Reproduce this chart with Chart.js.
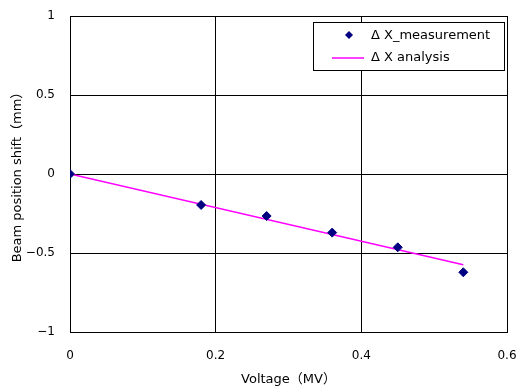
<!DOCTYPE html>
<html>
<head>
<meta charset="utf-8">
<script src="https://cdn.jsdelivr.net/npm/chart.js@4/dist/chart.umd.min.js"></script>
<style>
  html, body { margin: 0; padding: 0; background: #fff; }
  #wrap { width: 518px; height: 387px; }
</style>
</head>
<body>
<div id="wrap"><canvas id="shiftChart" width="518" height="387"></canvas></div>
<script>
// measured beam shift vs. voltage
const voltages = [0, 0.18, 0.27, 0.36, 0.45, 0.54];
const measuredShift = [0, -0.196, -0.266, -0.371, -0.464, -0.622];

// analysis line endpoints
const analysisVoltages = [0, 0.54];
const analysisShift = [0, -0.575];

const FONT = "'DejaVu Sans', 'Noto Sans CJK JP', sans-serif";

function toPoints(xs, ys) {
  return xs.map((x, i) => ({ x: x, y: ys[i] }));
}

function fmtTick(value) {
  const v = Math.round(value * 10) / 10;
  return String(v).replace('-', '\u2212');
}

// no extra room for edge labels, layout padding decides the plot box
function noEdgePadding(scale) {
  scale.paddingLeft = 0;
  scale.paddingRight = 0;
  scale.paddingTop = 0;
  scale.paddingBottom = 0;
}

// legend box drawn inside the plot area, top right
const boxLegend = {
  id: 'boxLegend',
  afterDraw(chart) {
    const ctx = chart.ctx;
    const x = 313, y = 22, w = 191, h = 48;
    ctx.save();
    ctx.fillStyle = '#fff';
    ctx.fillRect(x, y, w, h);
    ctx.strokeStyle = '#000';
    ctx.lineWidth = 1;
    ctx.strokeRect(x + 0.5, y + 0.5, w, h);

    ctx.font = '13px ' + FONT;
    ctx.textBaseline = 'middle';

    // measurement marker
    const m = chart.data.datasets[0];
    ctx.fillStyle = m.backgroundColor;
    ctx.beginPath();
    ctx.moveTo(349, 31);
    ctx.lineTo(353, 35);
    ctx.lineTo(349, 39);
    ctx.lineTo(345, 35);
    ctx.closePath();
    ctx.fill();
    ctx.fillStyle = '#000';
    ctx.fillText(m.label, 371, 36);

    // analysis line sample
    const a = chart.data.datasets[1];
    ctx.strokeStyle = a.borderColor;
    ctx.lineWidth = a.borderWidth;
    ctx.beginPath();
    ctx.moveTo(332, 58);
    ctx.lineTo(364, 58);
    ctx.stroke();
    ctx.fillText(a.label, 371, 58);
    ctx.restore();
  }
};

const ctx = document.getElementById('shiftChart').getContext('2d');
new Chart(ctx, {
  type: 'scatter',
  data: {
    datasets: [
      {
        label: '\u0394 X_measurement',
        data: toPoints(voltages, measuredShift),
        pointStyle: 'rectRot',
        pointRadius: 4.5,
        backgroundColor: '#000080',
        borderColor: '#000080',
        showLine: false,
        order: 1
      },
      {
        label: '\u0394 X analysis',
        data: toPoints(analysisVoltages, analysisShift),
        showLine: true,
        borderColor: '#FF00FF',
        borderWidth: 1.5,
        pointRadius: 0,
        order: 2
      }
    ]
  },
  options: {
    responsive: false,
    animation: false,
    layout: { padding: { top: 16, right: 11, left: 0, bottom: 0 } },
    plugins: {
      legend: { display: false },
      tooltip: { enabled: false }
    },
    scales: {
      x: {
        type: 'linear',
        min: 0,
        max: 0.6,
        ticks: {
          stepSize: 0.2,
          padding: 17,
          color: '#000',
          font: { family: FONT, size: 12 },
          callback: fmtTick
        },
        grid: { color: '#000', drawTicks: false, lineWidth: 1 },
        border: { color: '#000' },
        title: {
          display: true,
          text: 'Voltage\uFF08MV\uFF09',
          color: '#000',
          font: { family: FONT, size: 13 },
          padding: { top: 4, bottom: 0 }
        },
        afterFit(scale) {
          scale.height = 55;
          noEdgePadding(scale);
        }
      },
      y: {
        min: -1,
        max: 1,
        ticks: {
          stepSize: 0.5,
          padding: 15,
          color: '#000',
          font: { family: FONT, size: 12 },
          callback: fmtTick
        },
        grid: { color: '#000', drawTicks: false, lineWidth: 1 },
        border: { color: '#000' },
        title: {
          display: true,
          text: 'Beam position shift\uFF08mm\uFF09',
          color: '#000',
          font: { family: FONT, size: 13 },
          padding: { top: 10, bottom: 0 }
        },
        afterFit(scale) {
          scale.width = 70;
          noEdgePadding(scale);
        }
      }
    }
  },
  plugins: [boxLegend]
});
</script>
</body>
</html>
